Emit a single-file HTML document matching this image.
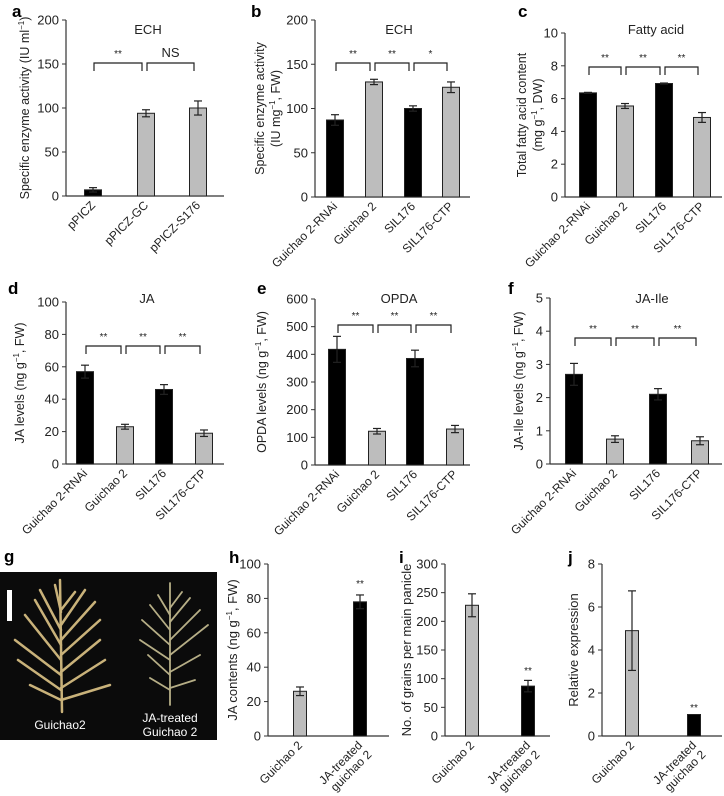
<!DOCTYPE html>
<html><head><meta charset="utf-8"><style>
body{margin:0;background:#fff}
svg{display:block;font-family:"Liberation Sans",sans-serif}
</style></head><body>
<svg id="fig" width="724" height="796" viewBox="0 0 724 796" xmlns="http://www.w3.org/2000/svg">
<rect width="724" height="796" fill="#fff"/>
<g>
<rect x="0" y="572" width="217" height="168" fill="#0b0b0b"/>
<rect x="7" y="590" width="5" height="31" fill="#fff"/>
<g stroke="#c9b27a" stroke-width="2.5" stroke-linecap="round" fill="none">
<path d="M62 712 L60 580"/>
<path d="M61 700 L30 685 M61 690 L18 660 M61 675 L15 640 M61 660 L25 615 M61 645 L35 600 M61 630 L40 590 M61 612 L55 585"/>
<path d="M61 700 L110 685 M61 688 L105 660 M61 672 L100 640 M61 655 L100 620 M61 640 L95 602 M61 625 L85 590 M61 610 L75 592"/>
</g>
<g stroke="#b6ae86" stroke-width="1.8" stroke-linecap="round" fill="none">
<path d="M170 705 L170 583"/>
<path d="M170 690 L150 678 M170 675 L148 655 M170 660 L140 640 M170 645 L142 620 M170 630 L150 605 M170 615 L158 595"/>
<path d="M170 688 L195 680 M170 672 L200 655 M170 655 L208 625 M170 640 L200 610 M170 622 L190 598 M170 608 L182 592"/>
</g>
<text x="60" y="729" fill="#fff" font-size="12" text-anchor="middle">Guichao2</text>
<text x="170" y="722" fill="#fff" font-size="12" text-anchor="middle">JA-treated</text>
<text x="170" y="736" fill="#fff" font-size="12" text-anchor="middle">Guichao 2</text>
</g>
</svg>
<script>
// ---- data ----
const catsA = ['pPICZ','pPICZ-GC','pPICZ-S176'];
const valsA = [7, 94, 100];
const errA  = [2.5, 4, 8];
const ticksA = [0,50,100,150,200];
const cats4 = ['Guichao 2-RNAi','Guichao 2','SIL176','SIL176-CTP'];
const valsB = [87, 130, 100, 124];
const errB  = [6, 3, 3, 6];
const ticksB = [0,50,100,150,200];
const valsC = [6.35, 5.55, 6.92, 4.85];
const errC  = [0.03, 0.15, 0.03, 0.3];
const ticksC = [0,2,4,6,8,10];
const valsD = [57, 23, 46, 19];
const errD  = [4, 1.5, 3, 2];
const ticksD = [0,20,40,60,80,100];
const valsE = [418, 122, 385, 130];
const errE  = [47, 10, 30, 13];
const ticksE = [0,100,200,300,400,500,600];
const valsF = [2.7, 0.75, 2.1, 0.7];
const errF  = [0.33, 0.1, 0.17, 0.12];
const ticksF = [0,1,2,3,4,5];
const cats2 = ['Guichao 2','JA-treated|guichao 2'];
const valsH = [26, 78];
const errH  = [2.5, 4];
const ticksH = [0,20,40,60,80,100];
const valsI = [228, 87];
const errI  = [20, 10];
const ticksI = [0,50,100,150,200,250,300];
const valsJ = [4.9, 1.0];
const errJ  = [1.85, 0];
const ticksJ = [0,2,4,6,8];
const sigA = ['**','NS'];
const sigB = ['**','**','*'];
const sig3 = ['**','**','**'];
const sigHIJ = ['', '**'];

const NS='http://www.w3.org/2000/svg';
const svg=document.getElementById('fig');
function mk(tag,attrs,parent){const e=document.createElementNS(NS,tag);for(const k in attrs)e.setAttribute(k,attrs[k]);(parent||svg).appendChild(e);return e;}
const K='#000', G='#bdbdbd';

function panel(p){
  const g=mk('g',{});
  
  
  const max=p.ticks[p.ticks.length-1];
  const y=v=>p.bot-(v/max)*(p.bot-p.top);
  const ya=mk('line',{x1:p.x0,y1:p.top,x2:p.x0,y2:p.bot,stroke:'#333','stroke-width':1.2},g);
  
  
  const xa=mk('line',{x1:p.x0,y1:p.bot,x2:p.x1,y2:p.bot,stroke:'#333','stroke-width':1.2},g);
  
  
  p.ticks.forEach(t=>{
    mk('line',{x1:p.x0-4,y1:y(t),x2:p.x0,y2:y(t),stroke:'#333'},g);
    const tl=mk('text',{x:p.x0-7,y:y(t)+4.5,'font-size':p.fs,'text-anchor':'end',fill:'#222'},g);
    tl.textContent=t;
    
    
  });
  p.vals.forEach((v,i)=>{
    const cx=p.cx[i], w=p.bw;
    const b=mk('rect',{x:cx-w/2,y:y(v),width:w,height:p.bot-y(v),fill:p.colors[i],stroke:'#222','stroke-width':1},g);
    
    
    const e=p.err[i];
    if(e>0){
      mk('line',{x1:cx,y1:y(v+e),x2:cx,y2:y(v-e),stroke:'#222','stroke-width':1.2},g);
      mk('line',{x1:cx-4,y1:y(v+e),x2:cx+4,y2:y(v+e),stroke:'#222','stroke-width':1.2},g);
      mk('line',{x1:cx-4,y1:y(v-e),x2:cx+4,y2:y(v-e),stroke:'#222','stroke-width':1.2},g);
    }
    const lx=cx+3, ly=p.bot+10;
    const t=mk('text',{x:lx,y:ly,'font-size':p.xfs,'text-anchor':'end',fill:'#222',transform:`rotate(-45 ${lx} ${ly})`},g);
    
    
    const parts=p.cats[i].split('|');
    parts.forEach((s,j)=>{const ts=mk('tspan',{x:lx,dy:j?'1.1em':'0'},t);ts.textContent=s;});
  });
  if(p.title){
    const tt=mk('text',{x:p.tx,y:p.ty,'font-size':13,'text-anchor':'middle',fill:'#222'},g);
    tt.textContent=p.title;
    
    
  }
  const cy=(p.top+p.bot)/2;
  p.ylab.forEach((ln,j)=>{
    const lx=p.ylx[j];
    const t=mk('text',{x:lx,y:cy,'font-size':p.yfs,'text-anchor':'middle',fill:'#222',transform:`rotate(-90 ${lx} ${cy})`},g);
    
    
    ln.split('^').forEach((s,k)=>{
      const ts=mk('tspan',k%2?{'font-size':8,dy:-5}:(k>0?{dy:5}:{}),t);ts.textContent=s;
    });
  });
  if(p.sig && p.brY){
    p.sig.forEach((s,i)=>{
      const a=p.cx[i]+1, b=p.cx[i+1]-4, by=p.brY;
      const br=mk('path',{d:`M${a} ${by+8} V${by} H${b} V${by+8}`,fill:'none',stroke:'#222','stroke-width':1.2},g);
      
      
      const st=mk('text',{x:(a+b)/2,y:by-6,'font-size':s==='NS'?13:10,'text-anchor':'middle',fill:'#222'},g);
      st.textContent=s;
      
      
    });
  }
  if(p.stars){
    p.stars.forEach((s,i)=>{ if(!s) return;
      const st=mk('text',{x:p.cx[i],y:p.starY,'font-size':10,'text-anchor':'middle',fill:'#222'},g);
      st.textContent=s;
      
      
    });
  }
  const L=mk('text',{x:p.lx,y:p.ly,'font-size':17,'font-weight':'bold',fill:'#000'},g);
  L.textContent=p.id;
  
  
}
const topCfg={fs:13,xfs:12,yfs:12.5,bw:17};
panel(Object.assign({},topCfg,{id:'a',x0:66,x1:224,top:20,bot:196,cx:[93,146,198],cats:catsA,vals:valsA,err:errA,ticks:ticksA,colors:[K,G,G],title:'ECH',tx:148,ty:34,ylab:['Specific enzyme activity (IU ml^−1^)'],ylx:[29],sig:sigA,brY:63,lx:12,ly:17}));
panel(Object.assign({},topCfg,{id:'b',x0:315,x1:470,top:20,bot:197,cx:[335,374,413,451],cats:cats4,vals:valsB,err:errB,ticks:ticksB,colors:[K,G,K,G],title:'ECH',tx:399,ty:34,ylab:['Specific enzyme activity','(IU mg^−1^, FW)'],ylx:[264,280],sig:sigB,brY:63,lx:251,ly:17}));
panel(Object.assign({},topCfg,{id:'c',x0:565,x1:722,top:33,bot:197,cx:[588,625,664,702],cats:cats4,vals:valsC,err:errC,ticks:ticksC,colors:[K,G,K,G],title:'Fatty acid',tx:656,ty:34,ylab:['Total fatty acid content','(mg g^−1^, DW)'],ylx:[526,542],sig:sig3,brY:67,lx:518,ly:17}));
panel(Object.assign({},topCfg,{id:'d',x0:66,x1:224,top:302,bot:464,cx:[85,125,164,204],cats:cats4,vals:valsD,err:errD,ticks:ticksD,colors:[K,G,K,G],title:'JA',tx:147,ty:303,ylab:['JA levels (ng g^−1^, FW)'],ylx:[24],sig:sig3,brY:346,lx:8,ly:294}));
panel(Object.assign({},topCfg,{id:'e',x0:315,x1:470,top:299,bot:465,cx:[337,377,415,455],cats:cats4,vals:valsE,err:errE,ticks:ticksE,colors:[K,G,K,G],title:'OPDA',tx:399,ty:303,ylab:['OPDA levels (ng g^−1^, FW)'],ylx:[266],sig:sig3,brY:325,lx:257,ly:294}));
panel(Object.assign({},topCfg,{id:'f',x0:550,x1:722,top:298,bot:464,cx:[574,615,658,700],cats:cats4,vals:valsF,err:errF,ticks:ticksF,colors:[K,G,K,G],title:'JA-Ile',tx:652,ty:303,ylab:['JA-Ile levels (ng g^−1^, FW)'],ylx:[523],sig:sig3,brY:338,lx:508,ly:294}));
const botCfg={fs:13,xfs:12,yfs:13,bw:13};
panel(Object.assign({},botCfg,{id:'h',x0:268,x1:389,top:564,bot:736,cx:[300,360],cats:cats2,vals:valsH,err:errH,ticks:ticksH,colors:[G,K],ylab:['JA contents  (ng g^−1^, FW)'],ylx:[237],stars:sigHIJ,starY:587,lx:229,ly:563}));
panel(Object.assign({},botCfg,{id:'i',x0:445,x1:550,top:564,bot:736,cx:[472,528],cats:cats2,vals:valsI,err:errI,ticks:ticksI,colors:[G,K],ylab:['No. of grains per main panicle'],ylx:[411],stars:sigHIJ,starY:674,lx:399,ly:563}));
panel(Object.assign({},botCfg,{id:'j',x0:602,x1:722,top:564,bot:736,cx:[632,694],cats:cats2,vals:valsJ,err:errJ,ticks:ticksJ,colors:[G,K],ylab:['Relative expression'],ylx:[578],stars:sigHIJ,starY:711,lx:568,ly:563}));
const gl=mk('text',{x:4,y:562,'font-size':17,'font-weight':'bold',fill:'#000'});
gl.textContent='g';


</script>
</body></html>
